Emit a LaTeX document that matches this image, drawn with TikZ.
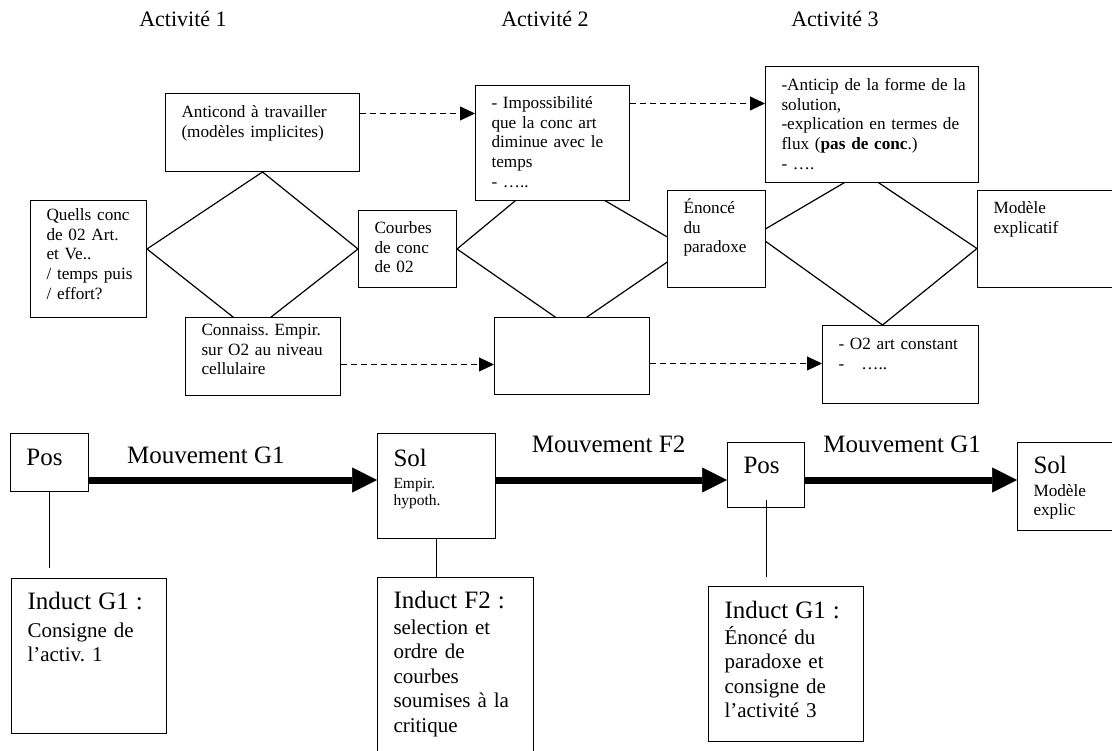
\documentclass[tikz,border=0pt]{standalone}
\usepackage{fontspec}
\setmainfont{Liberation Serif}
\usetikzlibrary{arrows.meta,calc,backgrounds}
\frenchspacing
\newcommand{\diagfont}{\fontsize{17.2}{19.7}\selectfont}
\newcommand{\bigfont}{\fontsize{25}{28}\selectfont}
\newcommand{\bodyfont}{\fontsize{21}{24.5}\selectfont}
\newcommand{\notefont}{\fontsize{15.5}{17}\selectfont}
\newcommand{\headfont}{\fontsize{22}{26}\selectfont}
\tikzset{
  cellbox/.style={
    draw,
    line width=1pt,
    fill=white,
    anchor=north west,
    align=left,
    inner xsep=16pt,
    inner ysep=0pt,
    font=\diagfont
  },
  stagebox/.style={cellbox, font=\bigfont},
  inductbox/.style={cellbox, font=\bodyfont},
  diamondline/.style={line width=1.2pt},
  linkline/.style={line width=1pt},
  dasharrow/.style={dash pattern=on 6pt off 4pt, line width=0.9pt, -{Triangle[length=15pt,width=14pt]}},
  movearrow/.style={line width=7pt, -{Triangle[length=25pt,width=25pt,line width=0.5pt]}},
  movelabel/.style={font=\bigfont, anchor=base west, inner sep=0pt},
  headlabel/.style={font=\headfont, anchor=base, inner sep=0pt}
}

\begin{document}
\begin{tikzpicture}[x=1pt, y=-1pt]
\useasboundingbox (0,0) rectangle (1112,751);

\node[headlabel] (act1) at (183,27) {Activité 1};
\node[headlabel] (act2) at (545,27) {Activité 2};
\node[headlabel] (act3) at (835,27) {Activité 3};

% activity boxes
\node[cellbox, text width=162pt, text height=24pt, text depth=54pt] (anticond) at (165,93) {Anticond à travailler\\(modèles implicites)};
\node[cellbox, text width=84pt, text height=20pt, text depth=97pt] (quells) at (30,200) {Quells conc\\de 02 Art.\\et Ve..\\\mbox{/ temps puis}\\/ effort?};
\node[cellbox, text width=123pt, text height=18pt, text depth=60pt] (connaiss) at (185,317) {\mbox{Connaiss. Empir.}\\sur O2 au niveau\\cellulaire};
\node[cellbox, text width=66pt, text height=23pt, text depth=54pt] (courbes) at (358,210) {Courbes\\de conc\\de 02};
\node[cellbox, text width=122pt, text height=23pt, text depth=92pt] (imposs) at (475,85) {- Impossibilité\\que la conc art\\diminue avec le\\temps\\- …..};
\node[cellbox, text width=123pt, text height=23pt, text depth=54pt] (empty) at (494,317) {};
\node[cellbox, text width=66pt, text height=23pt, text depth=74pt] (enonce) at (667,190) {Énoncé\\du\\paradoxe};
\node[cellbox, text width=181pt, text height=24pt, text depth=92pt] (anticip) at (765,66) {\mbox{-Anticip de la forme de la}\\solution,\\\mbox{-explication en termes de}\\flux (\textbf{pas de conc}.)\\- ….};
\node[cellbox, text width=128pt, text height=23pt, text depth=74pt] (modele) at (977,190) {Modèle\\explicatif};
\node[cellbox, text width=124pt, text height=24pt, text depth=54pt] (o2) at (822,325) {- O2 art constant\\-~~ …..};

\coordinate (da) at ($(anticond.east)+(0,-19)$);
\coordinate (db) at ($(imposs.east)+(0,-39.5)$);
\coordinate (dc) at ($(connaiss.east)+(0,8)$);
\coordinate (dd) at ($(empty.east)+(0,7.5)$);
\draw[dasharrow] (da) -- (da -| imposs.west);
\draw[dasharrow] (db) -- (db -| anticip.west);
\draw[dasharrow] (dc) -- (dc -| empty.west);
\draw[dasharrow] (dd) -- (dd -| o2.west);

\begin{scope}[on background layer]
\coordinate (d1l) at (quells.east |- courbes.west);
\coordinate (d1b) at ($(connaiss.north)+(-11,15)$);
\draw[diamondline] (d1l) -- (anticond.south) -- (courbes.west) -- (d1b) -- cycle;
\coordinate (d2t) at ($(imposs.south)+(0,-31)$);
\coordinate (d2r) at ($(enonce.west)+(20,9.5)$);
\coordinate (d2b) at ($(empty.north)+(-1,11)$);
\draw[diamondline] (courbes.east) -- (d2t) -- (d2r) -- (d2b) -- cycle;
\coordinate (d3l) at ($(enonce.east)+(-10,-4.5)$);
\coordinate (d3t) at ($(anticip.south)+(-9.5,-11)$);
\coordinate (d3r) at ($(modele.west)+(0,9.5)$);
\coordinate (d3b) at ($(o2.north)+(-18,0)$);
\draw[diamondline] (d3l) -- (d3t) -- (d3r) -- (d3b) -- cycle;
\end{scope}

% movements
\node[stagebox, text width=46pt, text height=32pt, text depth=26pt] (pos1) at (10,433) {Pos};
\node[stagebox, font=\notefont, text width=86pt, text height=33pt, text depth=72pt] (sol1) at (377,433) {{\bigfont Sol}\\[5pt]Empir.\\hypoth.};
\node[stagebox, text width=45pt, text height=31pt, text depth=34pt] (pos2) at (727,442) {Pos};
\node[stagebox, font=\diagfont, text width=88pt, text height=31pt, text depth=57pt] (sol2) at (1017,442) {{\bigfont Sol}\\[3pt]Modèle\\explic};

\node[inductbox, text width=123pt, text height=31pt, text depth=124pt] (induct1) at (11,578) {{\bigfont Induct G1 :}\\[3pt]Consigne de\\l’activ. 1};
\node[inductbox, text width=124pt, text height=31pt, text depth=169pt] (induct2) at (377,577) {{\bigfont Induct F2 :}\\[1pt]selection et\\ordre de\\courbes\\soumises à la\\critique};
\node[inductbox, text width=123pt, text height=32pt, text depth=123pt] (induct3) at (708,586) {{\bigfont Induct G1 :}\\[1pt]Énoncé du\\paradoxe et\\consigne de\\l’activité 3};

\coordinate (axis) at (0,480);
\draw[movearrow] (pos1.east |- axis) -- node[movelabel, pos=0.12, yshift=16pt] {Mouvement G1} (sol1.west |- axis);
\draw[movearrow] (sol1.east |- axis) -- node[movelabel, pos=0.14, yshift=27pt] {Mouvement F2} (pos2.west |- axis);
\draw[movearrow] (pos2.east |- axis) -- node[movelabel, pos=0.07, yshift=27pt] {Mouvement G1} (sol2.west |- axis);

\coordinate (p1end) at ($(pos1.south |- induct1.north)+(0,-10)$);
\coordinate (p2end) at ($(pos2.south |- induct3.north)+(0,-9)$);
\draw[linkline] (pos1.south) -- (p1end);
\draw[linkline] (sol1.south) -- (sol1.south |- induct2.north);
\draw[linkline] ($(pos2.south)+(0,-8)$) -- (p2end);
\end{tikzpicture}
\end{document}
